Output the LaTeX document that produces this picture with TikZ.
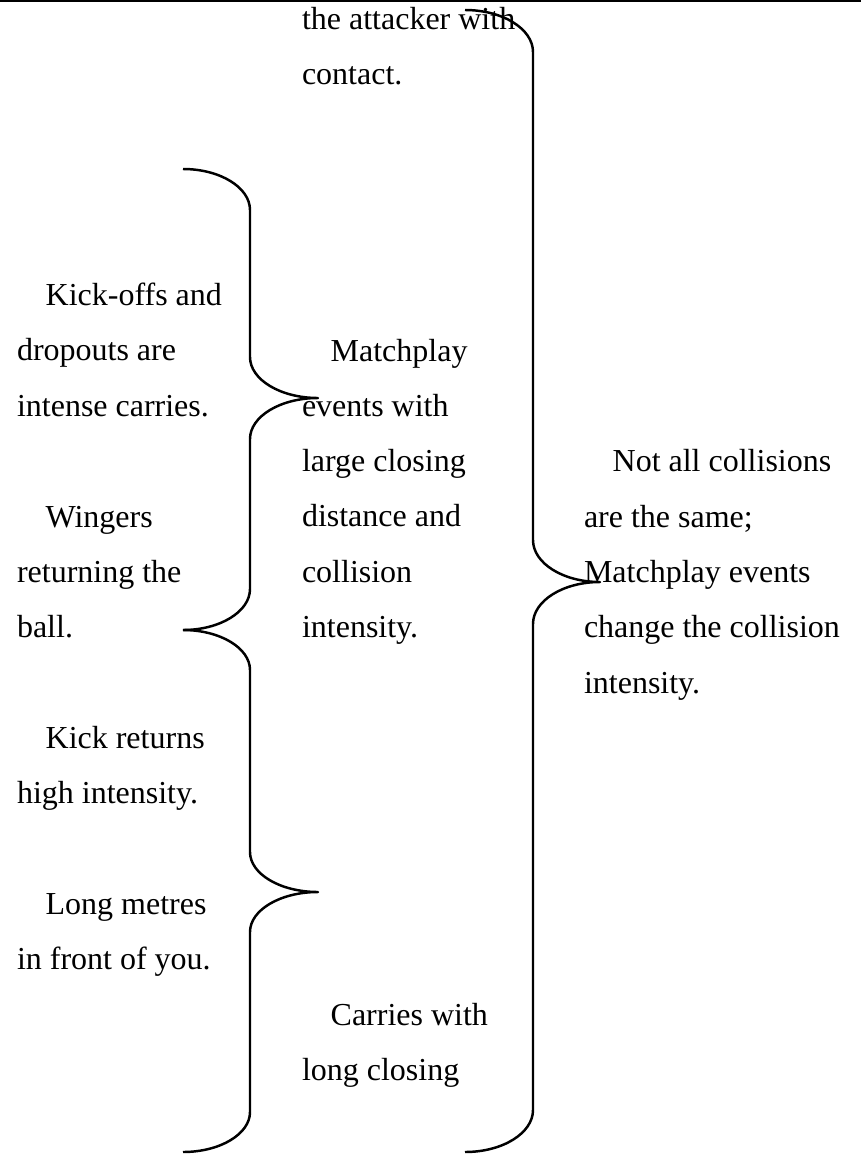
\documentclass[tikz,border=0pt]{standalone}
\usepackage{fontspec}
\setmainfont{Liberation Serif}
% a block of left-aligned lines on a fixed baseline grid; baseline = first line
\newcommand\textstack[1]{\vtop{\baselineskip=41.475pt\lineskiplimit=-\maxdimen\lineskip=0pt\halign{##\hfil\cr#1\crcr}}}
\newcommand\ind{\hskip 21.5pt}
% curly brace opening to the right: ends at x0, stem at x1, tip at x2;
% top yt, tip ym, bottom yb, corner height ry
\newcommand\curlybrace[7]{%
  \draw[bracestyle] (#1,#4)
    .. controls ({#1+0.552*(#2-#1)},#4) and (#2,{#4+0.448*#7}) .. (#2,{#4+#7})
    -- (#2,{#5-#7})
    .. controls (#2,{#5-0.448*#7}) and ({#3-0.552*(#3-#2)},#5) .. (#3,#5)
    .. controls ({#3-0.552*(#3-#2)},#5) and (#2,{#5+0.448*#7}) .. (#2,{#5+#7})
    -- (#2,{#6-#7})
    .. controls (#2,{#6-0.448*#7}) and ({#1+0.552*(#2-#1)},#6) .. (#1,#6);}
\begin{document}
\begin{tikzpicture}[x=0.75pt,y=-0.75pt,
  txt/.style={anchor=base west,inner sep=0pt,outer sep=0pt,font=\fontsize{24}{41.475}\selectfont},
  bracestyle/.style={line width=1.85pt,line join=round}]
\useasboundingbox (0,0) rectangle (861,1154);
\fill[white] (0,0) rectangle (861,1154);
\draw[line width=1.2pt] (0,0.8) -- (861,0.8);

% left column
\node[txt] (kick) at (17,305.5) {\textstack{\ind Kick-offs and\cr dropouts are\cr intense carries.}};
\node[txt] (wing) at (17,527) {\textstack{\ind Wingers\cr returning the\cr ball.}};
\node[txt] (kret) at (17,748.5) {\textstack{\ind Kick returns\cr high intensity.}};
\node[txt] (long) at (17,914.5) {\textstack{\ind Long metres\cr in front of you.}};

% middle column
\node[txt] (top) at (302,29) {\textstack{the attacker with\cr contact.}};
\node[txt] (match) at (302,361) {\textstack{\ind Matchplay\cr events with\cr large closing\cr distance and\cr collision\cr intensity.}};
\node[txt] (carry) at (302,1025) {\textstack{\ind Carries with\cr long closing}};

% right column
\node[txt] (notall) at (584,471.8) {\textstack{\ind Not all collisions\cr are the same;\cr Matchplay events\cr change the collision\cr intensity.}};

% braces
\curlybrace{183}{250}{318}{169}{398}{630}{41}
\curlybrace{183}{250}{318}{630}{892}{1152}{40}
\curlybrace{465}{533}{600}{10}{582}{1152}{42}
\end{tikzpicture}
\end{document}
